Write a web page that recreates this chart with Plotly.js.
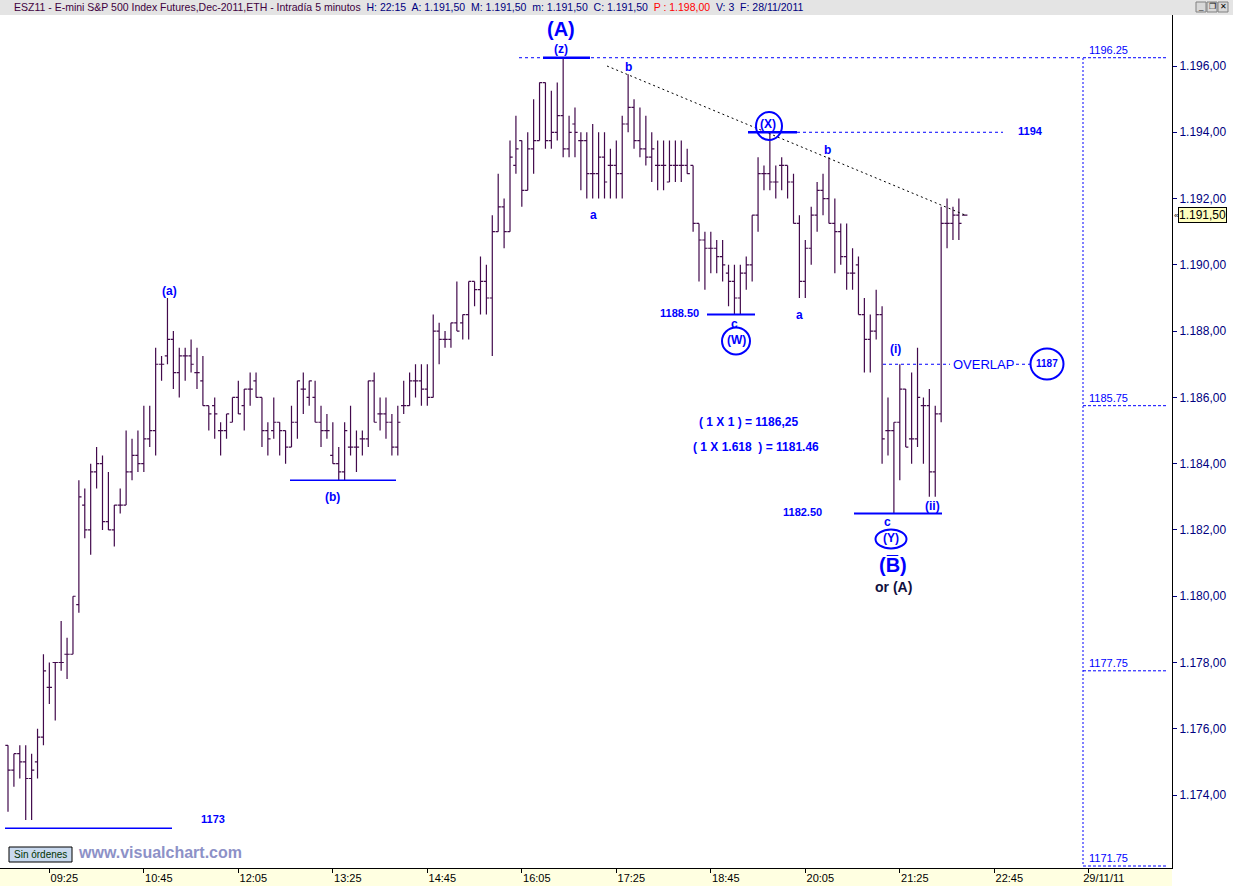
<!DOCTYPE html>
<html><head><meta charset="utf-8">
<script src="https://cdn.plot.ly/plotly-3.0.1.min.js"></script>
<style>html,body{margin:0;padding:0;background:#fff;overflow:hidden}#chart{width:1233px;height:886px}</style>
</head><body><div id="chart"></div>
<script>
// ---- data: 5-minute bars, ESZ11 28/11/2011 ----
const opens = [
1175.5,1174.75,1175.25,1175.0,1174.5,1175.0,1175.75,1177.25,1178.0,1178.0,
1178.25,1178.25,1179.75,1182.75,1182.0,1183.75,1184.0,1182.25,1182.0,1182.75,
1182.75,1183.75,1184.25,1184.0,1184.75,1185.0,1187.0,1187.25,1187.75,1186.75,
1187.25,1187.25,1186.75,1186.5,1185.75,1185.75,1185.0,1185.0,1185.25,1186.0,
1185.75,1186.25,1186.5,1186.0,1185.0,1185.0,1185.25,1185.0,1184.5,1185.25,
1186.25,1186.0,1186.0,1185.25,1185.0,1184.25,1184.0,1183.75,1184.5,1184.5,
1184.75,1184.75,1186.5,1185.5,1185.5,1185.25,1184.5,1185.75,1185.75,1186.5,
1186.5,1186.25,1186.0,1188.0,1187.75,1187.75,1188.25,1188.25,1188.5,1189.5,
1189.25,1189.5,1189.0,1191.0,1191.75,1191.0,1193.0,1193.75,1192.25,1193.5,
1193.75,1195.5,1193.75,1194.0,1194.5,1193.5,1194.25,1193.75,1193.75,1192.75,
1192.75,1193.25,1193.0,1193.0,1192.75,1194.25,1194.75,1193.75,1193.5,1193.25,
1193.0,1193.0,1192.5,1193.0,1193.0,1193.0,1193.0,1191.25,1190.75,1190.5,
1190.5,1190.25,1189.75,1189.5,1189.0,1189.75,1190.0,1191.5,1192.75,1192.75,
1192.5,1193.0,1193.0,1192.5,1191.25,1189.5,1190.5,1191.5,1192.25,1192.0,
1191.25,1191.0,1190.25,1189.75,1190.0,1188.5,1187.75,1188.0,1188.5,1185.0,
1185.0,1185.25,1186.25,1184.75,1184.75,1185.75,1185.75,1183.75,1185.5,1191.25,
1191.25,1191.5,1191.5];
const highs = [
1175.5,1175.25,1175.5,1175.5,1175.25,1176.0,1178.25,1178.0,1178.0,1179.25,
1178.75,1180.0,1183.5,1183.25,1184.0,1184.5,1184.25,1183.75,1182.75,1183.25,
1185.0,1184.75,1185.0,1185.75,1185.75,1187.5,1187.25,1189.0,1188.0,1187.5,
1187.5,1187.75,1187.5,1187.25,1185.75,1186.0,1185.25,1185.5,1186.0,1186.5,
1186.25,1186.75,1186.75,1186.0,1185.25,1186.0,1185.25,1185.0,1185.75,1186.5,
1186.75,1186.5,1186.5,1185.75,1185.5,1185.25,1184.5,1185.25,1185.75,1185.0,
1185.0,1186.5,1186.75,1186.0,1186.0,1185.5,1185.75,1186.5,1186.75,1187.0,
1187.0,1187.0,1188.5,1188.25,1188.0,1188.25,1189.5,1188.5,1189.5,1189.5,
1190.25,1190.0,1191.5,1192.75,1192.0,1193.75,1194.5,1193.75,1194.0,1195.0,
1195.5,1195.5,1195.25,1195.5,1196.25,1194.5,1194.75,1194.0,1194.0,1194.25,
1194.0,1194.0,1193.5,1193.75,1194.5,1195.75,1195.0,1194.75,1194.5,1194.0,
1193.75,1193.75,1193.75,1193.75,1193.75,1193.5,1193.0,1191.25,1191.0,1191.0,
1190.75,1190.75,1190.0,1190.0,1190.0,1190.25,1191.5,1193.25,1193.0,1194.0,
1193.0,1193.25,1193.0,1192.75,1191.5,1190.75,1191.75,1192.5,1192.75,1193.25,
1192.0,1191.25,1191.25,1190.5,1190.25,1189.0,1188.5,1189.25,1188.75,1186.0,
1185.25,1187.0,1186.25,1186.75,1187.5,1186.0,1186.25,1185.75,1191.75,1192.0,
1191.75,1192.0,1191.5];
const lows = [
1173.5,1174.25,1174.5,1173.25,1173.25,1174.5,1175.5,1176.75,1176.25,1177.75,
1177.5,1178.25,1179.5,1181.75,1181.25,1183.25,1182.0,1182.0,1181.5,1182.5,
1182.75,1183.5,1183.75,1183.75,1184.5,1184.25,1186.5,1187.0,1186.25,1186.0,
1186.5,1186.75,1186.25,1185.75,1185.0,1184.75,1184.25,1184.75,1185.25,1185.5,
1185.0,1185.75,1186.0,1184.5,1184.25,1184.75,1184.25,1184.0,1184.5,1184.75,
1185.5,1185.75,1185.25,1184.5,1184.75,1184.0,1183.5,1183.5,1184.25,1183.75,
1184.25,1184.5,1185.25,1185.0,1184.75,1184.25,1184.25,1185.5,1185.75,1186.0,
1185.75,1185.75,1186.0,1187.0,1187.5,1187.5,1188.0,1187.75,1187.75,1188.75,
1188.5,1188.5,1187.25,1191.0,1190.5,1191.0,1192.75,1191.75,1192.25,1192.75,
1193.75,1193.5,1193.5,1193.75,1193.25,1193.25,1193.25,1192.25,1192.0,1192.0,
1192.0,1192.0,1192.0,1192.0,1192.0,1194.0,1193.5,1193.25,1193.0,1192.5,
1192.25,1192.25,1192.5,1192.5,1192.5,1192.75,1191.0,1189.5,1189.25,1189.75,
1189.75,1189.5,1188.75,1188.5,1188.5,1189.25,1189.5,1191.0,1192.25,1192.25,
1192.0,1192.25,1192.0,1191.25,1189.0,1189.0,1190.0,1191.0,1191.5,1191.25,
1189.75,1190.0,1189.25,1189.25,1188.5,1186.75,1186.75,1187.75,1184.0,1184.25,
1182.5,1183.5,1184.5,1184.0,1184.5,1184.0,1183.0,1183.0,1185.25,1190.5,
1190.75,1190.75,1191.5];
const closes = [
1174.75,1175.25,1175.0,1174.5,1174.75,1175.75,1177.75,1177.25,1178.0,1178.0,
1178.25,1180.0,1183.0,1182.0,1183.75,1184.0,1182.25,1182.0,1182.75,1182.75,
1183.75,1184.25,1184.0,1184.75,1185.0,1187.0,1187.0,1187.75,1186.75,1187.25,
1187.25,1187.0,1186.75,1185.75,1185.5,1185.5,1185.0,1185.5,1186.0,1185.5,
1186.25,1186.25,1186.0,1185.0,1184.75,1185.25,1185.0,1184.5,1185.25,1186.5,
1186.25,1186.5,1185.25,1185.0,1185.0,1184.0,1183.75,1185.0,1184.5,1184.5,
1184.75,1186.5,1185.25,1185.5,1185.25,1184.5,1185.25,1185.75,1186.5,1186.5,
1186.25,1186.0,1188.0,1187.75,1187.75,1188.25,1188.0,1188.5,1189.5,1189.25,
1189.5,1189.0,1191.0,1191.75,1191.0,1193.25,1193.5,1192.25,1193.5,1193.75,
1195.5,1193.75,1194.0,1194.5,1193.5,1194.0,1194.0,1193.75,1192.75,1192.75,
1193.25,1192.5,1193.0,1192.75,1194.25,1194.75,1193.75,1193.5,1193.25,1193.5,
1193.0,1193.0,1193.0,1193.0,1193.0,1192.75,1191.25,1190.75,1190.5,1190.5,
1190.25,1190.0,1189.5,1189.0,1189.75,1190.0,1191.5,1192.75,1192.75,1192.5,
1192.5,1193.0,1192.5,1191.25,1189.5,1190.5,1191.5,1192.25,1192.0,1191.25,
1191.0,1190.25,1189.75,1189.75,1188.5,1187.75,1188.0,1188.5,1184.75,1185.0,
1185.25,1186.25,1184.5,1184.75,1186.0,1185.75,1183.75,1185.5,1191.25,1191.25,
1191.5,1191.25,1191.5];
const timeTickLabels = ['09:25','10:45','12:05','13:25','14:45','16:05','17:25','18:45','20:05','21:25','22:45','29/11/11'];
const timeTickBars = [7,23,39,55,71,87,103,119,135,151,167,183];
const priceTickValues = [1174,1176,1178,1180,1182,1184,1186,1188,1190,1192,1194,1196];
const levelLines = [1196.25, 1185.75, 1177.75, 1171.75];

// ---- geometry helpers (pixel -> data / paper) used for annotation placement ----
const W = 1233, H = 886, PL = 0, PR = 1172, PT = 15, PB = 868;
const X = px => (px - 8) / 5.906;
const Y = py => 1196 - (py - 66) / 33.14;
const XP = px => (px - PL) / (PR - PL);
const YP = py => (PB - py) / (PB - PT);

const xs = opens.map((_, i) => i);
const BAR = '#420a4c';
const BLUE = '#0000ff';
const FONT = 'Liberation Sans, Arial, sans-serif';

const trace = {
  type: 'ohlc', x: xs, open: opens, high: highs, low: lows, close: closes,
  increasing: {line: {color: BAR, width: 1.2}},
  decreasing: {line: {color: BAR, width: 1.2}},
  tickwidth: 0.45, hoverinfo: 'skip', showlegend: false
};

const shapes = [];
const ann = [];
function hline(y, px0, px1, opt) {
  shapes.push(Object.assign({type: 'line', xref: 'x', yref: 'y', x0: X(px0), x1: X(px1), y0: y, y1: y,
    line: {color: BLUE, width: 1, dash: 'solid'}}, opt || {}));
}
function txt(text, px, py, size, opt) {
  ann.push(Object.assign({xref: 'x', yref: 'y', x: X(px), y: Y(py), text: text, showarrow: false,
    xanchor: 'center', yanchor: 'middle', font: {family: FONT, size: size, color: BLUE}}, opt || {}));
}
function ring(cx, cy, w, h) {
  shapes.push({type: 'circle', xref: 'x', yref: 'y', xsizemode: 'pixel', ysizemode: 'pixel',
    xanchor: X(cx), yanchor: Y(cy), x0: -w / 2, x1: w / 2, y0: -h / 2, y1: h / 2,
    line: {color: BLUE, width: 2}});
}

// header band
shapes.push({type: 'rect', xref: 'paper', yref: 'paper', x0: 0, x1: W / PR, y0: 1, y1: YP(0), fillcolor: '#e4e4e4', line: {width: 0}, layer: 'below'});
// bottom strip
shapes.push({type: 'rect', xref: 'paper', yref: 'paper', x0: 0, x1: 1, y0: 0, y1: YP(H), fillcolor: '#ffffe1', line: {width: 0}, layer: 'below'});
// window buttons
[[1196, '_'], [1207, '\u2750'], [1218, '\u2715']].forEach(b => {
  shapes.push({type: 'rect', xref: 'paper', yref: 'paper', x0: XP(b[0]), x1: XP(b[0] + 10), y0: YP(12), y1: YP(2), fillcolor: '#d8d8d8', line: {color: '#808080', width: 1}});
  ann.push({xref: 'paper', yref: 'paper', x: XP(b[0] + 5), y: YP(7), text: b[1], showarrow: false, xanchor: 'center', yanchor: 'middle', font: {family: FONT, size: 8, color: '#000'}});
});

// level lines on the right (vertical dotted marker + horizontal dashed levels)
shapes.push({type: 'line', xref: 'x', yref: 'paper', x0: X(1083), x1: X(1083), y0: YP(Y(levelLines[0]) ? 58 : 58), y1: YP(866), line: {color: BLUE, width: 1, dash: '2px,2px'}});
hline(levelLines[0], 519, 1083, {line: {color: BLUE, width: 1, dash: '3px,3px'}});
levelLines.forEach((v, i) => {
  const last = i === levelLines.length - 1;
  shapes.push({type: 'line', xref: 'x', yref: last ? 'paper' : 'y', x0: X(1083), x1: X(1168),
    y0: last ? YP(866) : v, y1: last ? YP(866) : v, line: {color: BLUE, width: 1, dash: '3px,2px'}});
  ann.push({xref: 'x', yref: last ? 'paper' : 'y', x: X(1087), y: last ? YP(866) : v, yshift: 8, text: v.toFixed(2), showarrow: false,
    xanchor: 'left', yanchor: 'middle', font: {family: FONT, size: 11, color: BLUE}});
});

// wave labels and lines
hline(1196.25, 543, 590, {line: {color: BLUE, width: 2.5}});
txt('<b>(A)</b>', 561, 29, 20);
txt('<b>(z)</b>', 561, 49, 12);
// trendline
shapes.push({type: 'line', xref: 'x', yref: 'y', x0: X(607), y0: Y(66), x1: X(965), y1: Y(215), line: {color: '#000', width: 1, dash: '2px,3px'}});
txt('<b>b</b>', 628, 67, 12);
txt('<b>a</b>', 593, 215, 12);
// (X)
hline(1194, 748, 797, {line: {color: BLUE, width: 2.5}});
hline(1194, 797, 1003, {line: {color: BLUE, width: 1, dash: '3px,3px'}});
ring(769, 126, 26, 28);
txt('<b>(X)</b>', 768, 124, 12);
txt('<b>1194</b>', 1030, 131, 11);
txt('<b>b</b>', 827, 150, 12);
txt('<b>a</b>', 799, 315, 12);
// (W)
hline(1188.5, 707, 755, {line: {color: BLUE, width: 2}});
txt('<b>1188.50</b>', 679, 313, 11);
txt('<b>c</b>', 734, 324, 12);
ring(736, 341, 28, 27);
txt('<b>(W)</b>', 736, 340, 12);
// (a), (b), 1173
txt('<b>(a)</b>', 169, 291, 12);
hline(1183.5, 290, 396, {line: {color: BLUE, width: 1.5}});
txt('<b>(b)</b>', 332, 497, 12);
hline(1173, 5, 172, {line: {color: BLUE, width: 1.5}});
txt('<b>1173</b>', 213, 819, 11);
// fib projections
txt('<b>( 1 X 1 ) = 1186,25</b>', 748, 422, 12);
txt('<b>( 1 X 1.618  ) = 1181.46</b>', 756, 447, 12);
// (Y)
hline(1182.5, 854, 942, {line: {color: BLUE, width: 2}});
txt('<b>1182.50</b>', 802, 512, 11);
txt('<b>c</b>', 887, 522, 12);
ring(891, 539, 31, 19);
txt('<b>(Y)</b>', 891, 538, 12);
txt('<b>(B\u0305)</b>', 893, 565, 20);
txt('<b>or (A)</b>', 893, 587, 14, {font: {family: FONT, size: 14, color: '#101040'}});
txt('<b>(i)</b>', 895, 349, 12);
txt('<b>(ii)</b>', 932, 506, 12);
// overlap
hline(1187, 883, 950, {line: {color: BLUE, width: 1, dash: '3px,3px'}});
hline(1187, 1016, 1031, {line: {color: BLUE, width: 1, dash: '3px,3px'}});
txt('OVERLAP', 983, 364, 13);
ring(1047, 364, 33, 31);
txt('<b>1187</b>', 1047, 363, 10);

// last price marker
ann.push({xref: 'paper', yref: 'y', x: XP(1178), y: closes[closes.length - 1], text: '1.191,50', showarrow: false, xanchor: 'left', yanchor: 'middle',
  bgcolor: '#ffffc0', bordercolor: '#000', borderwidth: 1, borderpad: 0, font: {family: FONT, size: 12, color: '#000'}});
ann.push({xref: 'paper', yref: 'y', x: XP(1176), y: closes[closes.length - 1], text: '\u00ab', showarrow: false, xanchor: 'center', yanchor: 'middle', font: {family: FONT, size: 8, color: '#000'}});

// header text
ann.push({xref: 'paper', yref: 'paper', x: XP(12), y: YP(7.5), xanchor: 'left', yanchor: 'middle', showarrow: false,
  font: {family: FONT, size: 10.5, color: '#400040'},
  text: 'ESZ11 - E-mini S&P 500 Index Futures,Dec-2011,ETH - Intradía 5 minutos ' +
    '<span style="color:#000080"> H: 22:15  A: 1.191,50  M: 1.191,50  m: 1.191,50  C: 1.191,50 </span>' +
    '<span style="color:#ff0000"> P : 1.198,00 </span>' +
    '<span style="color:#000080"> V: 3  F: 28/11/2011</span>'});
// footer
shapes.push({type: 'rect', xref: 'paper', yref: 'paper', x0: XP(9), x1: XP(72), y0: YP(862), y1: YP(847), fillcolor: '#c9d9ee', line: {color: '#000', width: 1}});
ann.push({xref: 'paper', yref: 'paper', x: XP(40.5), y: YP(854.5), text: 'Sin órdenes', showarrow: false, xanchor: 'center', yanchor: 'middle', font: {family: FONT, size: 10, color: '#003300'}});
ann.push({xref: 'paper', yref: 'paper', x: XP(76), y: YP(852), text: '<b>www.visualchart.com</b>', showarrow: false, xanchor: 'left', yanchor: 'middle', font: {family: FONT, size: 16, color: '#8d91c7'}});

const layout = {
  width: W, height: H,
  margin: {l: PL, r: W - PR, t: PT, b: H - PB, autoexpand: false},
  paper_bgcolor: '#ffffff', plot_bgcolor: '#ffffff',
  separators: ',.',
  showlegend: false, dragmode: false,
  xaxis: {range: [X(0), X(PR)], showgrid: false, zeroline: false, showline: true, linecolor: '#000', linewidth: 1,
    ticks: 'outside', ticklen: 4, tickcolor: '#000', tickvals: timeTickBars, ticktext: timeTickLabels,
    tickfont: {family: FONT, size: 11, color: '#000'}, ticklabelshift: 15, ticklabelstandoff: -4,
    rangeslider: {visible: false}, fixedrange: true},
  yaxis: {range: [Y(PB), Y(PT)], side: 'right', showgrid: false, zeroline: false, showline: true, linecolor: '#000', linewidth: 1,
    ticks: 'outside', ticklen: 4, tickcolor: '#000080', tickmode: 'array', tickvals: priceTickValues, tickformat: ',.2f',
    tickfont: {family: FONT, size: 12, color: '#000080'}, fixedrange: true},
  shapes: shapes, annotations: ann
};
Plotly.newPlot('chart', [trace], layout, {staticPlot: true, displayModeBar: false});
</script></body></html>
